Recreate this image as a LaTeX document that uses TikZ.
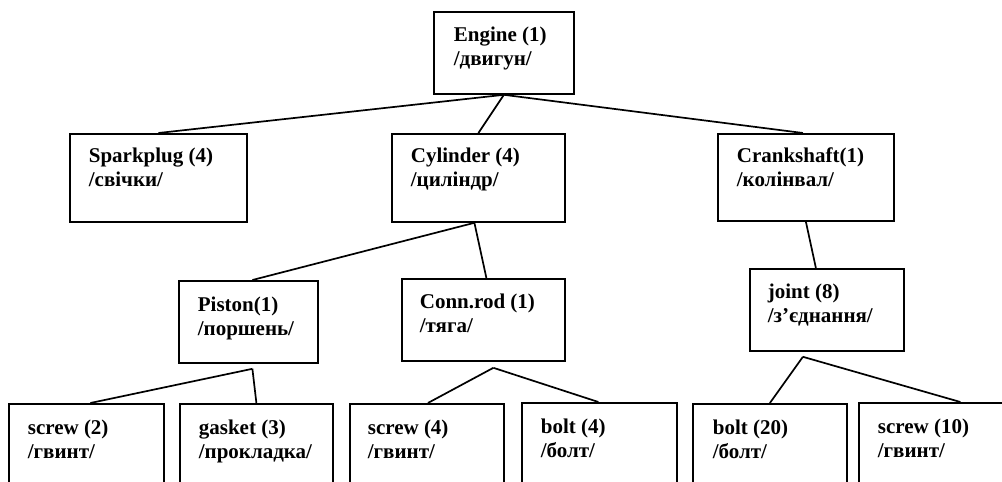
\documentclass[tikz,border=0pt]{standalone}
\usepackage{fontspec}
\setmainfont{Liberation Serif}
\tikzstyle{partbox}=[draw, rectangle, inner sep=0pt, anchor=north west, line width=1.8pt]
\tikzstyle{parttext}=[inner sep=0pt, anchor=base west, align=left,
  font=\bfseries\fontsize{21}{24}\selectfont]

\begin{document}
\begin{tikzpicture}[x=1pt, y=-1pt, line width=1.7pt]
    \clip (0,0) rectangle (1002,482);
% Parts
    \node[partbox, minimum width=140pt, minimum height=82pt] (engine) at (433,11) {};
    \node[partbox, minimum width=177pt, minimum height=88pt] (spark) at (69,133) {};
    \node[partbox, minimum width=173pt, minimum height=88pt] (cyl) at (391,133) {};
    \node[partbox, minimum width=176pt, minimum height=87pt] (crank) at (717,133) {};
    \node[partbox, minimum width=139pt, minimum height=82pt] (piston) at (178,280) {};
    \node[partbox, minimum width=163pt, minimum height=82pt] (rod) at (401,278) {};
    \node[partbox, minimum width=154pt, minimum height=82pt] (joint) at (749,268) {};
    \node[partbox, minimum width=155pt, minimum height=100pt] (screwA) at (8,403) {};
    \node[partbox, minimum width=153pt, minimum height=100pt] (gasket) at (179,403) {};
    \node[partbox, minimum width=154pt, minimum height=100pt] (screwB) at (349,403) {};
    \node[partbox, minimum width=155pt, minimum height=100pt] (boltA) at (521,402) {};
    \node[partbox, minimum width=154pt, minimum height=100pt] (boltB) at (692,403) {};
    \node[partbox, minimum width=155pt, minimum height=100pt] (screwC) at (858,402) {};
% Names (anchored on the baseline of the second line)
    \node[parttext] (engine-n) at ([shift={(20,54)}]engine.north west) {Engine (1)\\/двигун/};
    \node[parttext] (spark-n) at ([shift={(19,53)}]spark.north west) {Sparkplug (4)\\/свічки/};
    \node[parttext] (cyl-n) at ([shift={(19,53)}]cyl.north west) {Cylinder (4)\\/циліндр/};
    \node[parttext] (crank-n) at ([shift={(19,53)}]crank.north west) {Crankshaft(1)\\/колінвал/};
    \node[parttext] (piston-n) at ([shift={(19,55)}]piston.north west) {Piston(1)\\/поршень/};
    \node[parttext] (rod-n) at ([shift={(18,54)}]rod.north west) {Conn.rod (1)\\/тяга/};
    \node[parttext] (joint-n) at ([shift={(18,54)}]joint.north west) {joint (8)\\/з’єднання/};
    \node[parttext] (screwA-n) at ([shift={(19,55)}]screwA.north west) {screw (2)\\/гвинт/};
    \node[parttext] (gasket-n) at ([shift={(19,55)}]gasket.north west) {gasket (3)\\/прокладка/};
    \node[parttext] (screwB-n) at ([shift={(18,55)}]screwB.north west) {screw (4)\\/гвинт/};
    \node[parttext] (boltA-n) at ([shift={(19,55)}]boltA.north west) {bolt (4)\\/болт/};
    \node[parttext] (boltB-n) at ([shift={(20,55)}]boltB.north west) {bolt (20)\\/болт/};
    \node[parttext] (screwC-n) at ([shift={(19,55)}]screwC.north west) {screw (10)\\/гвинт/};
% Branch points
    \coordinate (cyl-fork) at ([xshift=-4pt]cyl.south);
    \coordinate (piston-fork) at ([shift={(4,5)}]piston.south);
    \coordinate (rod-fork) at ([shift={(10,6)}]rod.south);
    \coordinate (joint-fork) at ([shift={(-24,5)}]joint.south);
% Links
    \draw (engine.south) -- (spark.north);
    \draw (engine.south) -- (cyl.north);
    \draw (engine.south) -- ([xshift=-3pt]crank.north);
    \draw (cyl-fork) -- ([xshift=4pt]piston.north);
    \draw (cyl-fork) -- ([xshift=3pt]rod.north);
    \draw (crank.south) -- ([xshift=-11pt]joint.north);
    \draw (piston-fork) -- ([xshift=4pt]screwA.north);
    \draw (piston-fork) -- (gasket.north);
    \draw (rod-fork) -- ([xshift=1pt]screwB.north);
    \draw (rod-fork) -- ([xshift=-1pt]boltA.north);
    \draw (joint-fork) -- (boltB.north);
    \draw (joint-fork) -- ([xshift=24pt]screwC.north);
\end{tikzpicture}
\end{document}
